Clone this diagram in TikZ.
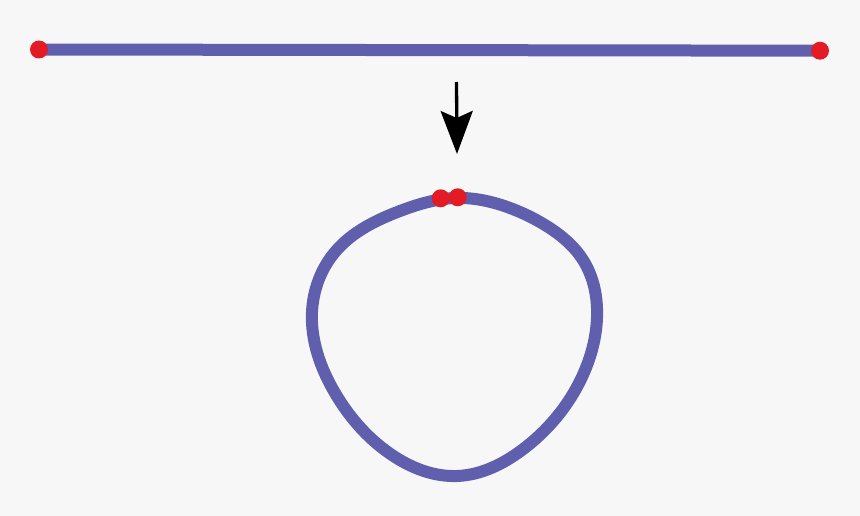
\documentclass[tikz,border=0pt]{standalone}
\usetikzlibrary{arrows.meta,hobby}
\definecolor{bgc}{HTML}{F7F7F7}
\definecolor{purp}{HTML}{5F5FAD}
\definecolor{dotred}{HTML}{E21B25}
\begin{document}
\begin{tikzpicture}[x=1pt,y=-1pt,
  strand/.style={draw=purp,line width=12pt},
  endpt/.style={circle,fill=dotred,inner sep=0pt,minimum size=18pt},
  bigarrow/.style={line width=3.3pt,-{Stealth[length=43pt,width=32pt,inset=7pt]}}]
\fill[bgc] (0,0) rectangle (860,516);
\useasboundingbox (0,0) rectangle (860,516);
% straight strand
\coordinate (la) at (39,49.5);
\coordinate (lb) at (820,50.7);
\draw[strand] (la) -- (lb);
\node[endpt] (ea) at (la) {};
\node[endpt] (eb) at (lb) {};
% arrow
\coordinate (as) at (456.5,82);
\coordinate (ae) at (457,154);
\draw[bigarrow] (as) -- (ae);
% loop
\draw[strand, use Hobby shortcut, closed=true]
  (455,198) .. (510,208) .. (545,225) .. (583,260) .. (597,318) .. (582,377) .. (522,450)
  .. (457,476) .. (395,457) .. (335,393) .. (312,312) .. (335,252) .. (400,211);
\node[endpt] (ca) at (440.7,198.3) {};
\node[endpt] (cb) at (457.7,197.3) {};
\end{tikzpicture}
\end{document}
